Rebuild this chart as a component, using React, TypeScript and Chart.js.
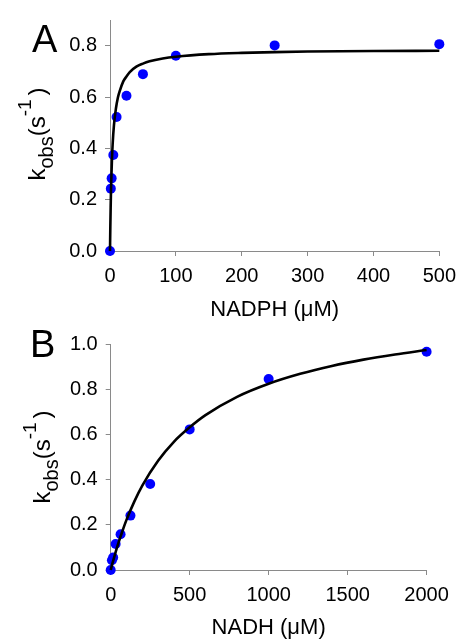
import React, { useEffect, useRef } from 'react';
import { Chart, registerables } from 'chart.js';

Chart.register(...registerables);

// Panel A: NADPH
const nadphConc = [0, 1.25, 2.5, 5, 10, 25, 50, 100, 250, 500];
const nadphKobs = [0, 0.243, 0.283, 0.374, 0.522, 0.605, 0.689, 0.761, 0.801, 0.806];
const nadphFitX = [0, 0.5, 1, 1.5, 2, 3, 4, 6, 9, 12, 15, 20, 25, 30, 40, 50, 60, 80, 100, 150, 200, 250, 300, 400, 500];
const nadphFitY = [0, 0.095, 0.17, 0.235, 0.28, 0.36, 0.415, 0.49, 0.555, 0.598, 0.625, 0.66, 0.68, 0.697, 0.718, 0.73, 0.739, 0.75, 0.757, 0.767, 0.772, 0.775, 0.777, 0.779, 0.78];
const xTicksA = [0, 100, 200, 300, 400, 500];
const yTicksA = [0, 0.2, 0.4, 0.6, 0.8];

// Panel B: NADH
const nadhConc = [0, 7.8, 15.6, 31.25, 62.5, 125, 250, 500, 1000, 2000];
const nadhKobs = [0, 0.043, 0.055, 0.115, 0.158, 0.241, 0.381, 0.623, 0.846, 0.967];
const nadhFitX = [0, 10, 25, 50, 75, 100, 150, 200, 300, 400, 500, 600, 800, 1000, 1200, 1400, 1600, 1800, 2000];
const nadhFitY = [0, 0.027, 0.064, 0.122, 0.174, 0.222, 0.304, 0.374, 0.484, 0.568, 0.632, 0.686, 0.767, 0.825, 0.869, 0.904, 0.932, 0.955, 0.975];
const xTicksB = [0, 500, 1000, 1500, 2000];
const yTicksB = [0, 0.2, 0.4, 0.6, 0.8, 1.0];

const FONT = '"Liberation Sans", Arial, sans-serif';
const AXIS_GRAY = '#8a8a8a';

type PanelOpts = {
  letter: string;
  letterX: number;
  letterY: number;
  titleBaseX: number;
  titleCenterY: number;
  xs: number[];
  ys: number[];
  fitX: number[];
  fitY: number[];
  xTicks: number[];
  yTicks: number[];
  xMax: number;
  yMax: number;
  xTitle: string;
  yAxisWidth: number;
  xAxisHeight: number;
  padTop: number;
  padRight: number;
  titlePadBottom: number;
};

function annotatePlugin(o: PanelOpts) {
  return {
    id: 'annot' + o.letter,
    afterDraw(chart: any) {
      const ctx = chart.ctx as CanvasRenderingContext2D;
      ctx.save();
      ctx.fillStyle = '#000';
      ctx.textAlign = 'left';
      ctx.textBaseline = 'alphabetic';
      ctx.font = `38px ${FONT}`;
      ctx.fillText(o.letter, o.letterX, o.letterY);

      const parts = [
        { t: 'k', size: 24, dy: 0, gap: 0 },
        { t: 'obs', size: 20, dy: 8, gap: 0 },
        { t: '(s', size: 24, dy: 0, gap: 0 },
        { t: '-1', size: 19, dy: -14, gap: 0 },
        { t: ')', size: 24, dy: 0, gap: 4 },
      ];
      let total = 0;
      const widths: number[] = [];
      for (const p of parts) {
        ctx.font = `${p.size}px ${FONT}`;
        const w = ctx.measureText(p.t).width;
        widths.push(w);
        total += w + p.gap;
      }
      ctx.translate(o.titleBaseX, o.titleCenterY);
      ctx.rotate(-Math.PI / 2);
      let x = -total / 2;
      parts.forEach((p, i) => {
        x += p.gap;
        ctx.font = `${p.size}px ${FONT}`;
        ctx.fillText(p.t, x, p.dy);
        x += widths[i];
      });
      ctx.restore();
    },
  };
}

function makeConfig(o: PanelOpts): any {
  return {
    type: 'scatter',
    data: {
      datasets: [
        {
          label: 'fit',
          data: o.fitX.map((x, i) => ({ x, y: o.fitY[i] })),
          showLine: true,
          borderColor: '#000',
          borderWidth: 2.6,
          pointRadius: 0,
          pointHoverRadius: 0,
          cubicInterpolationMode: 'monotone',
          fill: false,
          clip: false,
        },
        {
          label: 'data',
          data: o.xs.map((x, i) => ({ x, y: o.ys[i] })),
          backgroundColor: '#0000ff',
          borderColor: '#0000ff',
          borderWidth: 0,
          pointRadius: 5,
          pointHoverRadius: 5,
          clip: false,
        },
      ],
    },
    options: {
      responsive: false,
      animation: false,
      events: [],
      layout: { padding: { top: o.padTop, right: o.padRight, left: 0, bottom: 0 } },
      plugins: { legend: { display: false }, tooltip: { enabled: false } },
      scales: {
        x: {
          type: 'linear',
          min: 0,
          max: o.xMax,
          afterBuildTicks: (s: any) => {
            s.ticks = o.xTicks.map((v) => ({ value: v }));
          },
          afterFit: (s: any) => {
            s.height = o.xAxisHeight;
          },
          grid: {
            display: true,
            drawOnChartArea: false,
            drawTicks: true,
            tickLength: 5,
            color: AXIS_GRAY,
            lineWidth: 1,
          },
          border: { display: true, color: AXIS_GRAY, width: 1 },
          ticks: {
            color: '#000',
            font: { family: FONT, size: 20 },
            padding: 8,
            maxRotation: 0,
            autoSkip: false,
            callback: (v: any) => String(v),
          },
          title: {
            display: true,
            text: o.xTitle,
            color: '#000',
            font: { family: FONT, size: 22, lineHeight: 1 },
            padding: { top: 0, bottom: o.titlePadBottom },
          },
        },
        y: {
          type: 'linear',
          min: 0,
          max: o.yMax,
          afterBuildTicks: (s: any) => {
            s.ticks = o.yTicks.map((v) => ({ value: v }));
          },
          afterFit: (s: any) => {
            s.width = o.yAxisWidth;
          },
          grid: {
            display: true,
            drawOnChartArea: false,
            drawTicks: true,
            tickLength: 5,
            color: AXIS_GRAY,
            lineWidth: 1,
          },
          border: { display: true, color: AXIS_GRAY, width: 1 },
          ticks: {
            color: '#000',
            font: { family: FONT, size: 20 },
            padding: 8,
            autoSkip: false,
            callback: (v: any) => Number(v).toFixed(1),
          },
        },
      },
    },
    plugins: [annotatePlugin(o)],
  };
}

const panelA: PanelOpts = {
  letter: 'A',
  letterX: 32,
  letterY: 52,
  titleBaseX: 45,
  titleCenterY: 134,
  xs: nadphConc,
  ys: nadphKobs,
  fitX: nadphFitX,
  fitY: nadphFitY,
  xTicks: xTicksA,
  yTicks: yTicksA,
  xMax: 500,
  yMax: 0.9,
  xTitle: 'NADPH (μM)',
  yAxisWidth: 110,
  xAxisHeight: 71,
  padTop: 12.5,
  padRight: 22.7,
  titlePadBottom: 1,
};

const panelB: PanelOpts = {
  letter: 'B',
  letterX: 30,
  letterY: 35,
  titleBaseX: 50,
  titleCenterY: 135,
  xs: nadhConc,
  ys: nadhKobs,
  fitX: nadhFitX,
  fitY: nadhFitY,
  xTicks: xTicksB,
  yTicks: yTicksB,
  xMax: 2000,
  yMax: 1.0,
  xTitle: 'NADH (μM)',
  yAxisWidth: 110.7,
  xAxisHeight: 73,
  padTop: 22.3,
  padRight: 37.4,
  titlePadBottom: 4,
};

function Panel({ opts, height }: { opts: PanelOpts; height: number }) {
  const ref = useRef<HTMLCanvasElement | null>(null);
  useEffect(() => {
    if (!ref.current) return;
    const chart = new Chart(ref.current, makeConfig(opts));
    return () => chart.destroy();
  }, [opts]);
  return <canvas ref={ref} width={464} height={height} style={{ display: 'block', width: 464, height }} />;
}

export default function App() {
  return (
    <div style={{ position: 'absolute', left: 0, top: 0, width: 464, height: 643, background: '#fff' }}>
      <Panel opts={panelA} height={322} />
      <Panel opts={panelB} height={321} />
    </div>
  );
}
